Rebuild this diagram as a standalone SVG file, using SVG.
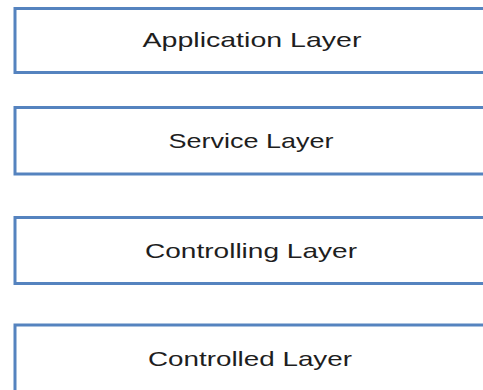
<svg xmlns="http://www.w3.org/2000/svg" width="483" height="390" viewBox="0 0 483 390">
<style>
.box{fill:#ffffff;stroke:#5583bf;stroke-width:3}
.lbl{font-family:"Liberation Sans","DejaVu Sans",Arial,sans-serif;font-size:21px;fill:#1e1e1e;text-anchor:middle}
</style>
<rect x="0" y="0" width="483" height="390" fill="#ffffff"/>
<g id="application-layer">
<rect class="box" x="15" y="8.5" width="480" height="64"/>
<text class="lbl" x="252" y="47" textLength="219" lengthAdjust="spacingAndGlyphs">Application Layer</text>
</g>
<g id="service-layer">
<rect class="box" x="15" y="107.5" width="480" height="66.5"/>
<text class="lbl" x="251" y="148" textLength="165" lengthAdjust="spacingAndGlyphs">Service Layer</text>
</g>
<g id="controlling-layer">
<rect class="box" x="15" y="217.5" width="480" height="66"/>
<text class="lbl" x="251" y="258" textLength="212" lengthAdjust="spacingAndGlyphs">Controlling Layer</text>
</g>
<g id="controlled-layer">
<rect class="box" x="15" y="325" width="480" height="80"/>
<text class="lbl" x="250" y="366" textLength="204" lengthAdjust="spacingAndGlyphs">Controlled Layer</text>
</g>
</svg>
